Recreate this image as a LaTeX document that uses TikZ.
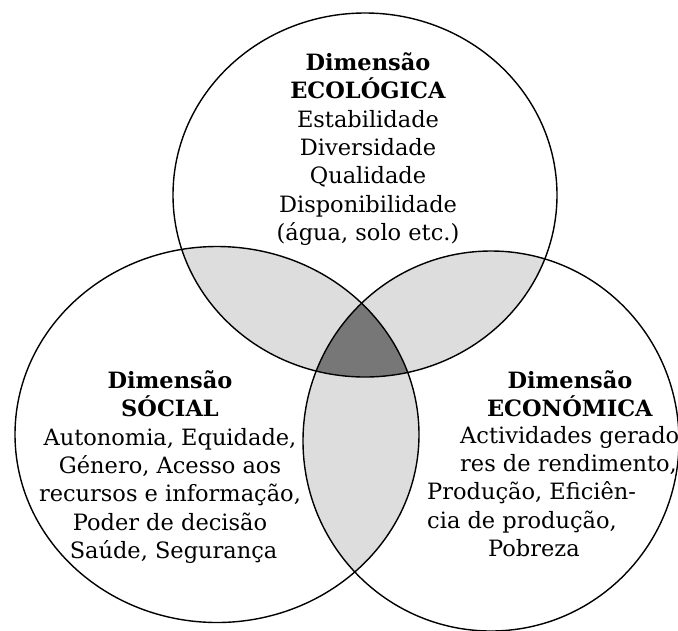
\documentclass[tikz,border=0pt]{standalone}
\usepackage{fontspec}
\setmainfont{DejaVu Serif}
\definecolor{lensgray}{HTML}{DDDDDD}
\definecolor{coregray}{HTML}{777777}

\begin{document}
\begin{tikzpicture}[x=1pt,y=-1pt,
    ring/.style={draw,line width=1.4pt},
    eco ring/.style={insert path={(eco) ellipse [x radius=192,y radius=182]}},
    soc ring/.style={insert path={(soc) ellipse [x radius=202,y radius=188]}},
    econ ring/.style={insert path={(econ) ellipse [x radius=188,y radius=190]}},
    dimtext/.style={font=\fontsize{22.5}{28.3}\selectfont,inner sep=0pt,align=center}]
    \useasboundingbox (0,0) rectangle (678,630);
    \coordinate (eco) at (365,195);
    \coordinate (soc) at (217,434.5);
    \coordinate (econ) at (491,441);

    % pairwise overlaps
    \begin{scope}
        \clip[eco ring];
        \fill[lensgray, soc ring];
        \fill[lensgray, econ ring];
    \end{scope}
    \begin{scope}
        \clip[soc ring];
        \fill[lensgray, econ ring];
    \end{scope}
    % all three
    \begin{scope}
        \clip[eco ring];
        \clip[soc ring];
        \fill[coregray, econ ring];
    \end{scope}

    \path[ring, eco ring];
    \path[ring, soc ring];
    \path[ring, econ ring];

    \node[dimtext, anchor=north] (eco text) at (368,52.5) {\textbf{Dimensão}\\\textbf{ECOLÓGICA}\\Estabilidade\\Diversidade\\Qualidade\\Disponibilidade\\(água, solo etc.)};
    \node[dimtext, anchor=north] (soc text) at (170,370.5) {\textbf{Dimensão}\\\textbf{SÓCIAL}\\Autonomia, Equidade,\\Género, Acesso aos\\recursos e informação,\\Poder de decisão\\\ Saúde, Segurança};
    \node[dimtext, anchor=north] (econ title) at (570,370.5) {\textbf{Dimensão}\\\textbf{ECONÓMICA}};
    \node[dimtext, align=left, anchor=north west] (econ text) at (427,425.9) {\hspace*{33pt}Actividades gerado\\\hspace*{33pt}res de rendimento,\\Produção, Eficiên-\\cia de produção,\\\hspace*{61pt}Pobreza};
\end{tikzpicture}
\end{document}
